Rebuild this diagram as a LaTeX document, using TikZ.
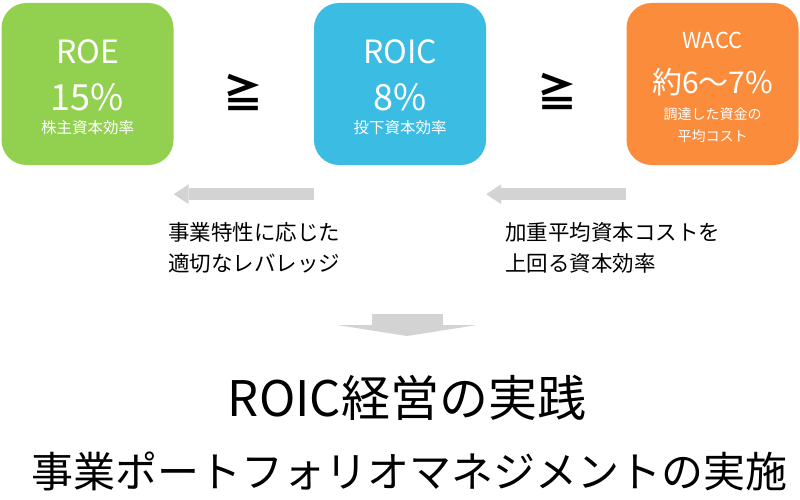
\documentclass[tikz,border=0pt]{standalone}
\usepackage{fontspec}
\setmainfont{Noto Sans CJK JP}
\usetikzlibrary{arrows.meta}
\definecolor{roegreen}{HTML}{92D050}
\definecolor{roicblue}{HTML}{3BBDE3}
\definecolor{waccorange}{HTML}{FA8C3C}
\definecolor{arrowgray}{HTML}{D3D3D3}
\newcommand{\fsz}[2]{\fontsize{#1}{#2}\selectfont}

\begin{document}
\begin{tikzpicture}[x=1pt,y=-1pt,
    rate/.style={rounded corners=25pt,minimum width=172pt,minimum height=162pt,inner sep=0pt},
    rname/.style={text=white,inner sep=0pt,font=\fsz{32}{38}},
    rvalue/.style={text=white,inner sep=0pt,font=\fsz{36}{42}},
    rsub/.style={text=white,inner sep=0pt,align=center,font=\fsz{15.5}{22}},
    gesign/.style={inner sep=0pt,font=\fsz{40}{46}\bfseries},
    note/.style={inner sep=0pt,align=left,anchor=west,font=\fsz{21.5}{31}},
    flow/.style={draw=arrowgray,line width=12pt,-{Triangle[length=15pt 0 0,width=20pt 0 0,line width=0pt 0 0]}},
    drop/.style={draw=arrowgray,line width=71pt,-{Triangle[length=11pt 0 0,width=140pt 0 0,line width=0pt 0 0]}}]
  \useasboundingbox (0,0) rectangle (800,500);
  % three rate boxes
  \draw
    (87.5,84) node[rate,fill=roegreen] (roe){}
    (400,84) node[rate,fill=roicblue] (roic){}
    (712.5,84) node[rate,fill=waccorange] (wacc){};
  \draw
    (87.5,52) node[rname] (roe name){ROE}
    (87.5,97) node[rvalue] (roe value){15\%}
    (87.5,128) node[rsub] (roe sub){株主資本効率}
    (400,52) node[rname] (roic name){ROIC}
    (400,97) node[rvalue] (roic value){8\%}
    (400,128) node[rsub] (roic sub){投下資本効率}
    (712.5,40) node[rname,font=\fsz{22}{26}] (wacc name){WACC}
    (712.5,82) node[rvalue,font=\fsz{30}{36}] (wacc value){約6〜7\%}
    (712.5,125) node[rsub,font=\fsz{14}{22}] (wacc sub){調達した資金の\\平均コスト};
  \draw
    (243,93) node[gesign] (ge1){≧}
    (557,92) node[gesign] (ge2){≧};
  % gray arrows and notes
  \begin{scope}
    \draw[flow] ([yshift=-29pt]roic.south west) -- ([yshift=-29pt]roe.south east);
    \draw[flow] ([yshift=-29pt]wacc.south west) -- ([yshift=-29pt]roic.south east);
  \end{scope}
  \draw
    (168,247.5) node[note] (leverage){事業特性に応じた\\適切なレバレッジ}
    (505,247.5) node[note] (spread){加重平均資本コストを\\上回る資本効率};
  \coordinate (drop top) at (407,314);
  \coordinate (drop tip) at (407,336);
  \draw[drop] (drop top) -- (drop tip);
  \draw
    (407,398) node[inner sep=0pt,font=\fsz{49}{54}] (practice){ROIC経営の実践}
    (409,471) node[inner sep=0pt,font=\fsz{42}{48}] (portfolio){事業ポートフォリオマネジメントの実施};
\end{tikzpicture}
\end{document}
